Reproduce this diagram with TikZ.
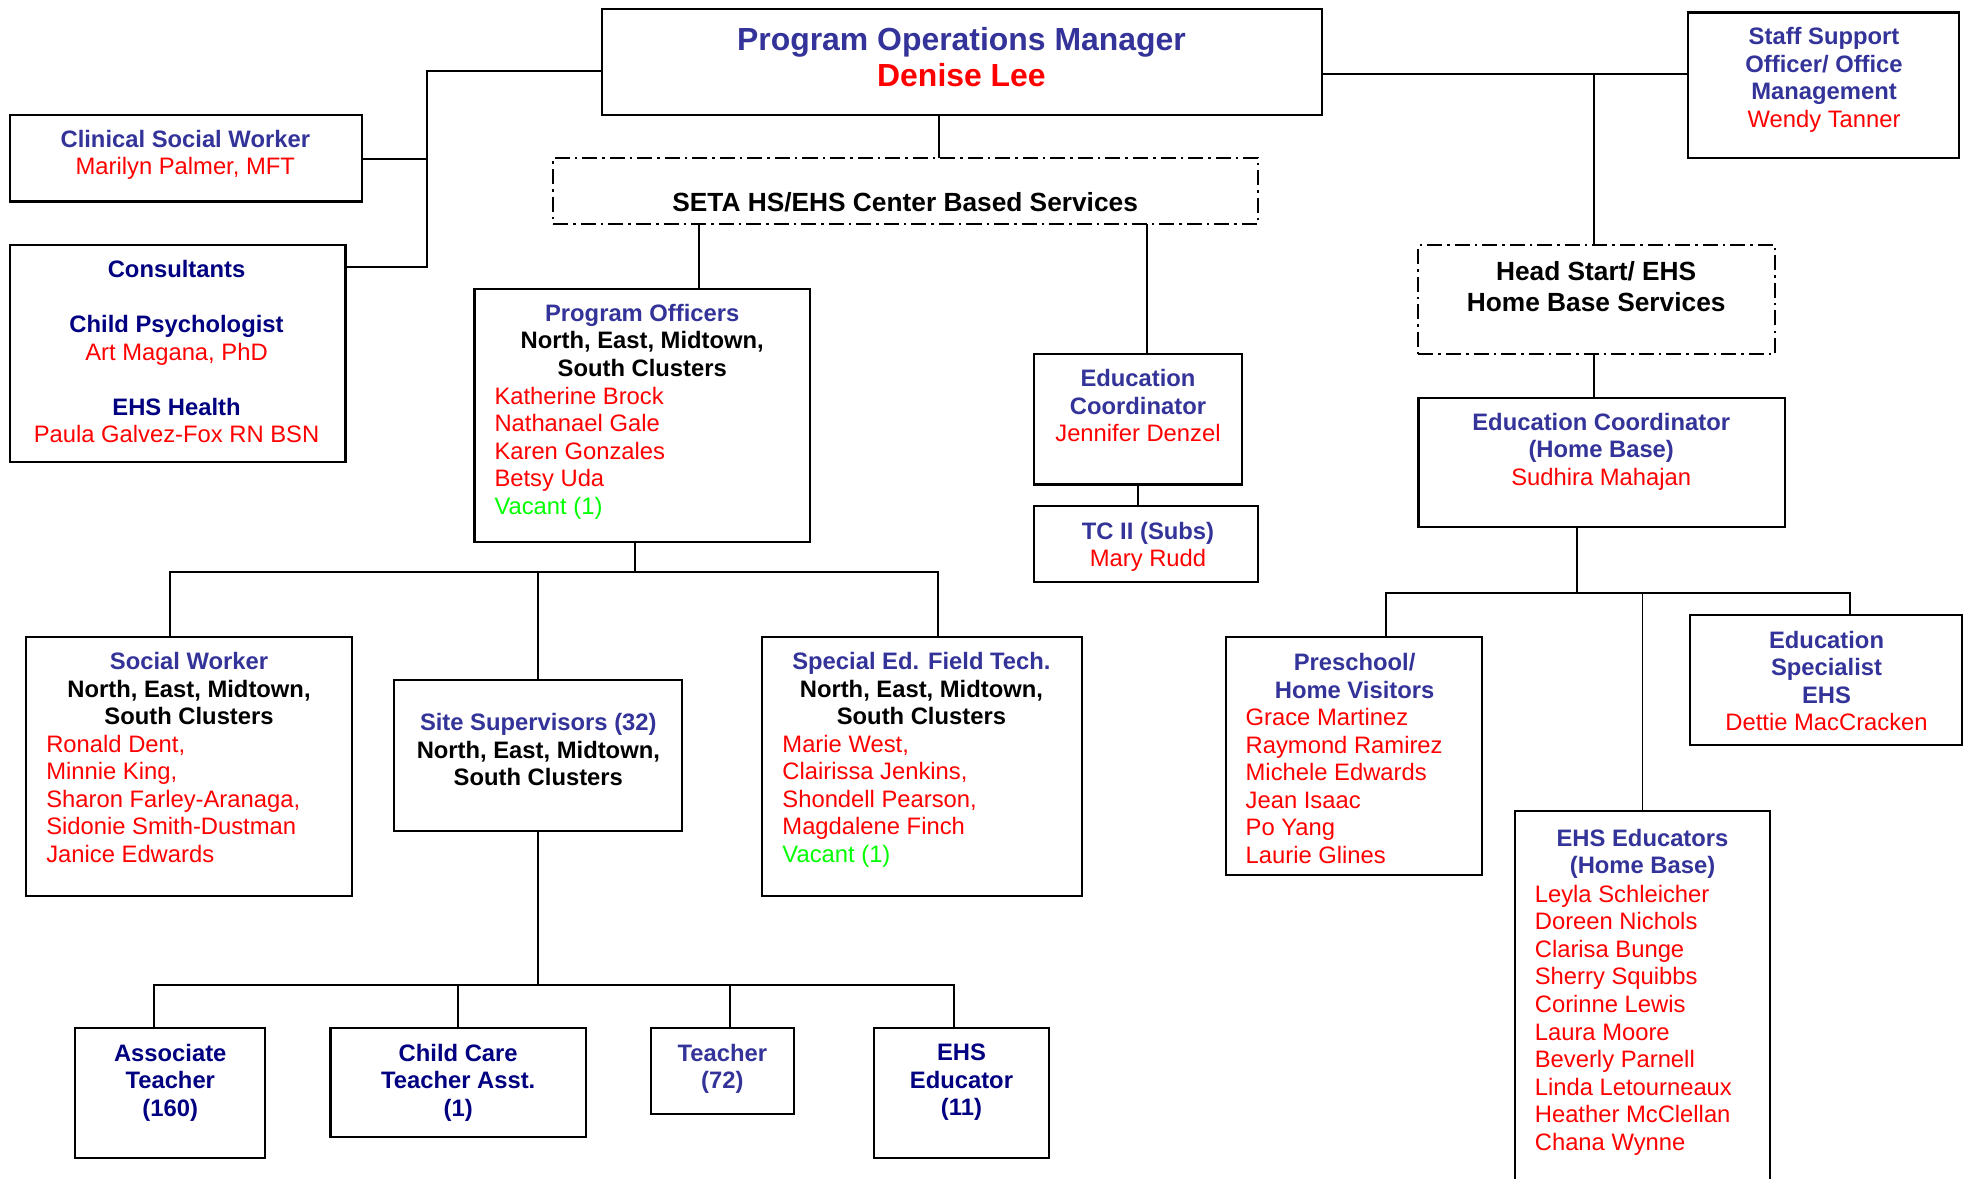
\documentclass[tikz,border=0pt]{standalone}
\usepackage{fontspec}
\setmainfont{Liberation Sans}
\definecolor{cb}{HTML}{333399}
\definecolor{cn}{HTML}{000080}
\definecolor{cr}{HTML}{FF0000}
\definecolor{cg}{HTML}{00FF00}
\newcommand\hb[2]{\textcolor{#1}{\bfseries #2}}
\newcommand\hr[2]{\textcolor{#1}{#2}}
\newcommand\mkbox[6][]{\node[box,#1,anchor=north west,minimum width={#5pt-#3pt},minimum height={#6pt-#4pt}] (#2) at (#3,#4) {};}
\tikzset{
  box/.style={draw,rectangle,line width=1.7pt,inner sep=0pt,outer sep=0pt},
  dbox/.style={line width=1.5pt,dash pattern=on 12pt off 4pt on 2pt off 4pt},
  conn/.style={line width=1.5pt},
  tx/.style={inner sep=0pt,outer sep=0pt,font=\fontsize{19}{22}\selectfont,align=center,anchor=north},
  txb/.style={tx,font=\fontsize{21}{25}\selectfont},
  nm/.style={tx,align=left,anchor=north west},
}
\begin{document}
\begin{tikzpicture}[x=1pt,y=-1pt]
\useasboundingbox (0,0) rectangle (1568,941);
% boxes
\mkbox{pom}{481}{7}{1056}{92}
\mkbox{csw}{8}{92}{289}{161}
\mkbox{cons}{8}{196}{276}{369}
\mkbox[dbox]{seta}{442}{126}{1005}{179}
\mkbox{po}{379}{231}{647}{433}
\mkbox{educ}{826}{283}{992}{387}
\mkbox{tc}{826}{404}{1005}{465}
\mkbox{staff}{1348}{10}{1565}{126}
\mkbox[dbox]{hs}{1133}{196}{1418}{283}
\mkbox{echb}{1133}{318}{1426}{421}
\mkbox{pre}{979}{509}{1184}{699}
\mkbox{espec}{1350}{491}{1567}{595}
\mkbox{ehse}{1210}{648}{1414}{960}
\mkbox{sw}{21}{509}{281}{716}
\mkbox{site}{315}{543}{545}{664}
\mkbox{sped}{609}{509}{864}{716}
\mkbox{assoc}{60}{821}{212}{925}
\mkbox{cct}{264}{821}{468}{908}
\mkbox{teach}{520}{821}{634}{890}
\mkbox{ehsed}{698}{821}{838}{925}
% texts
\node[tx,font=\fontsize{25.5}{29}\selectfont] (pomT) at (768,21.5) {\hb{cb}{Program Operations Manager}\\\hb{cr}{Denise Lee}};
\node[tx] (cswT) at (148,104) {\hb{cb}{Clinical Social Worker}\\\hr{cr}{Marilyn Palmer, MFT}};
\node[tx] (consT) at (141,208) {\hb{cn}{Consultants}\\[22pt]\hb{cn}{Child Psychologist}\\\hr{cr}{Art Magana, PhD}\\[22pt]\hb{cn}{EHS Health}\\\hr{cr}{Paula Galvez-Fox RN BSN}};
\node[txb] (setaT) at (723,154) {\bfseries SETA HS/EHS Center Based Services};
\node[tx] (poT) at (513,243) {\hb{cb}{Program Officers}\\\bfseries North, East, Midtown,\\\bfseries South Clusters};
\node[nm] (poN) at (395,309) {\hr{cr}{Katherine Brock}\\\hr{cr}{Nathanael Gale}\\\hr{cr}{Karen Gonzales}\\\hr{cr}{Betsy Uda}\\\hr{cg}{Vacant (1)}};
\node[tx] (educT) at (909,295) {\hb{cb}{Education}\\\hb{cb}{Coordinator}\\\hr{cr}{Jennifer Denzel}};
\node[tx] (tcT) at (917,417) {\hb{cb}{TC II (Subs)}\\\hr{cr}{Mary Rudd}};
\node[tx] (staffT) at (1457,22) {\hb{cb}{Staff Support}\\\hb{cb}{Officer/ Office}\\\hb{cb}{Management}\\\hr{cr}{Wendy Tanner}};
\node[txb] (hsT) at (1275,209) {\bfseries Head Start/ EHS\\\bfseries Home Base Services};
\node[tx] (echbT) at (1279,330) {\hb{cb}{Education Coordinator}\\\hb{cb}{(Home Base)}\\\hr{cr}{Sudhira Mahajan}};
\node[tx] (preT) at (1082,522) {\hb{cb}{Preschool/}\\\hb{cb}{Home Visitors}};
\node[nm] (preN) at (995,566) {\hr{cr}{Grace Martinez}\\\hr{cr}{Raymond Ramirez}\\\hr{cr}{Michele Edwards}\\\hr{cr}{Jean Isaac}\\\hr{cr}{Po Yang}\\\hr{cr}{Laurie Glines}};
\node[tx] (especT) at (1459,504) {\hb{cb}{Education}\\\hb{cb}{Specialist}\\\hb{cb}{EHS}\\\hr{cr}{Dettie MacCracken}};
\node[tx] (ehseT) at (1312,662) {\hb{cb}{EHS Educators}\\\hb{cb}{(Home Base)}};
\node[nm] (ehseN) at (1226,707) {\hr{cr}{Leyla Schleicher}\\\hr{cr}{Doreen Nichols}\\\hr{cr}{Clarisa Bunge}\\\hr{cr}{Sherry Squibbs}\\\hr{cr}{Corinne Lewis}\\\hr{cr}{Laura Moore}\\\hr{cr}{Beverly Parnell}\\\hr{cr}{Linda Letourneaux}\\\hr{cr}{Heather McClellan}\\\hr{cr}{Chana Wynne}};
\node[tx] (swT) at (151,521) {\hb{cb}{Social Worker}\\\bfseries North, East, Midtown,\\\bfseries South Clusters};
\node[nm] (swN) at (37,587) {\hr{cr}{Ronald Dent,}\\\hr{cr}{Minnie King,}\\\hr{cr}{Sharon Farley-Aranaga,}\\\hr{cr}{Sidonie Smith-Dustman}\\\hr{cr}{Janice Edwards}};
\node[tx] (siteT) at (430,570) {\hb{cb}{Site Supervisors (32)}\\\bfseries North, East, Midtown,\\\bfseries South Clusters};
\node[tx] (spedT) at (736,521) {\hb{cb}{Special Ed. Field Tech.}\\\bfseries North, East, Midtown,\\\bfseries South Clusters};
\node[nm] (spedN) at (625,587) {\hr{cr}{Marie West,}\\\hr{cr}{Clairissa Jenkins,}\\\hr{cr}{Shondell Pearson,}\\\hr{cr}{Magdalene Finch}\\\hr{cg}{Vacant (1)}};
\node[tx] (assocT) at (136,834) {\hb{cn}{Associate}\\\hb{cn}{Teacher}\\\hb{cn}{(160)}};
\node[tx] (cctT) at (366,834) {\hb{cn}{Child Care}\\\hb{cn}{Teacher Asst.}\\\hb{cn}{(1)}};
\node[tx] (teachT) at (577,834) {\hb{cb}{Teacher}\\\hb{cb}{(72)}};
\node[tx] (ehsedT) at (768,834) {\hb{cn}{EHS}\\\hb{cn}{Educator}\\\hb{cn}{(11)}};
% junctions
\coordinate (cL) at (341,57);
\coordinate (jcsw) at (341,127);
\coordinate (jcons) at (341,213);
\coordinate (jA) at (750,100);
\coordinate (jR) at (1273,59);
\coordinate (jB) at (558,200);
\coordinate (jC) at (916,200);
\coordinate (jD) at (909,395);
\coordinate (jE) at (1260,474);
\coordinate (jEL) at (1107,474);
\coordinate (jEM) at (1312,474);
\coordinate (jER) at (1478,474);
\coordinate (jF) at (507,457);
\coordinate (jFL) at (136,457);
\coordinate (jFM) at (430,457);
\coordinate (jFR) at (749,457);
\coordinate (jG) at (430,787);
\coordinate (jGL) at (123,787);
\coordinate (jGa) at (366,787);
\coordinate (jGb) at (583,787);
\coordinate (jGR) at (762,787);
% connectors
\draw[conn] (pom.west |- cL) -- (cL) -- (jcons) -- (jcons -| cons.east);
\draw[conn] (jcsw) -- (jcsw -| csw.east);
\draw[conn] (pom.south -| jA) -- (seta.north -| jA);
\draw[conn] (pom.east |- jR) -- (jR -| staff.west);
\draw[conn] (jR) -- (hs.north -| jR);
\draw[conn] (seta.south -| jB) -- (po.north -| jB);
\draw[conn] (seta.south -| jC) -- (educ.north -| jC);
\draw[conn] (educ.south -| jD) -- (tc.north -| jD);
\draw[conn] (hs.south -| jR) -- (echb.north -| jR);
\draw[conn] (echb.south -| jE) -- (jE);
\draw[conn] (jEL |- pre.north) -- (jEL) -- (jER) -- (jER |- espec.north);
\draw[conn] (jEM) -- (jEM |- ehse.north);
\draw[conn] (po.south -| jF) -- (jF);
\draw[conn] (jFL |- sw.north) -- (jFL) -- (jFR) -- (jFR |- sped.north);
\draw[conn] (jFM) -- (site.north -| jFM);
\draw[conn] (site.south -| jG) -- (jG);
\draw[conn] (jGL |- assoc.north) -- (jGL) -- (jGR) -- (jGR |- ehsed.north);
\draw[conn] (jGa) -- (jGa |- cct.north);
\draw[conn] (jGb) -- (jGb |- teach.north);
\end{tikzpicture}
\end{document}
